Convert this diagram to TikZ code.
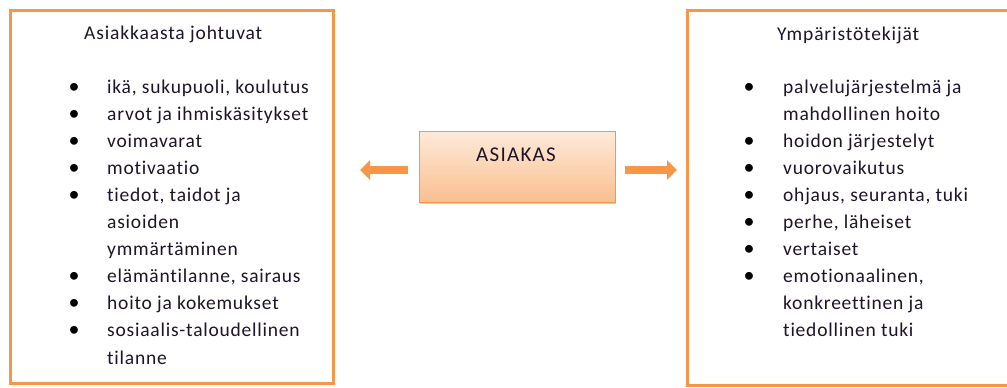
\documentclass[tikz,border=0pt]{standalone}
\usepackage{fontspec}
\setmainfont{Carlito}[Ligatures=NoCommon]
\usetikzlibrary{arrows.meta,shadows}
\definecolor{orng}{RGB}{247,150,70}
\definecolor{peachtop}{RGB}{253,234,218}
\definecolor{peachbot}{RGB}{250,191,143}
\definecolor{txt}{RGB}{30,20,40}
\tikzset{
  panel/.style={draw=orng, line width=3pt},
  lbl/.style={anchor=base west, inner sep=0pt, font=\fontsize{19.5}{22}\selectfont\addfontfeature{LetterSpace=4}, text=txt},
  ttl/.style={anchor=base west, inner sep=0pt, font=\fontsize{19.5}{22}\selectfont\addfontfeature{LetterSpace=4.5}, text=txt},
  bul/.style={anchor=base, inner sep=0pt, font=\fontsize{22}{22}\selectfont, text=black},
  center box/.style={draw=orng, line width=0.8pt, top color=peachtop, bottom color=peachbot,
    minimum width=196pt, minimum height=71pt, inner sep=0pt,
    drop shadow={shadow xshift=1pt, shadow yshift=-2pt, opacity=0.35}},
  fat/.style={draw=orng, line width=8.5pt, -{Triangle[width=19pt,length=10pt]}}
}
\begin{document}
\begin{tikzpicture}[x=1pt,y=-1pt]
\useasboundingbox (0,0) rectangle (1007,388);
% panels
\draw[panel] (10,10) rectangle (333,383);
\draw[panel] (687,10) rectangle (1012,385);
% center
\node[center box] (asiakas) at (517,166.5) {};
\node[anchor=base, inner sep=0pt, font=\fontsize{21}{24}\selectfont\addfontfeature{LetterSpace=6}, text=txt] (asiakaslbl) at (516,161) {ASIAKAS};
% arrows
\coordinate (la) at (408,170);
\coordinate (lb) at (360,170);
\coordinate (ra) at (625,170);
\coordinate (rb) at (677,170);
\draw[fat] (la) -- (lb);
\draw[fat] (ra) -- (rb);
% left text
\node[ttl] (ltitle) at (84,39) {Asiakkaasta johtuvat};
\foreach \t/\y/\b [count=\i] in {
 {ikä, sukupuoli, koulutus}/93/1,
 {arvot ja ihmiskäsitykset}/120.1/1,
 {voimavarat}/147.2/1,
 {motivaatio}/174.3/1,
 {tiedot, taidot ja}/201.4/1,
 {asioiden}/228.5/0,
 {ymmärtäminen}/255.6/0,
 {elämäntilanne, sairaus}/282.7/1,
 {hoito ja kokemukset}/309.8/1,
 {sosiaalis-taloudellinen}/336.9/1,
 {tilanne}/364/0}{
  \node[lbl] (l\i) at (107,\y) {\t};
  \ifnum\b=1 \node[bul] (lb\i) at (74,\y) {•}; \fi
}
% right text
\node[ttl] (rtitle) at (777,40) {Ympäristötekijät};
\foreach \t/\y/\b [count=\i] in {
 {palvelujärjestelmä ja}/93/1,
 {mahdollinen hoito}/120.1/0,
 {hoidon järjestelyt}/147.2/1,
 {vuorovaikutus}/174.3/1,
 {ohjaus, seuranta, tuki}/201.4/1,
 {perhe, läheiset}/228.5/1,
 {vertaiset}/255.6/1,
 {emotionaalinen,}/282.7/1,
 {konkreettinen ja}/309.8/0,
 {tiedollinen tuki}/336.9/0}{
  \node[lbl] (r\i) at (783,\y) {\t};
  \ifnum\b=1 \node[bul] (rb\i) at (749,\y) {•}; \fi
}
\end{tikzpicture}
\end{document}
